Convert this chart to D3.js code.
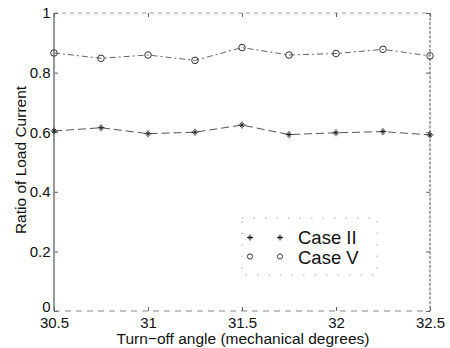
<!DOCTYPE html>
<html><head><meta charset="utf-8">
<script src="https://cdn.jsdelivr.net/npm/d3@7"></script>
<style>body{margin:0;background:#fff}svg{display:block}text{font-family:"Liberation Sans",Arial,sans-serif;fill:#111}</style>
</head><body><svg id="c" width="450" height="348"></svg>
<script>
const angles = [30.5, 30.75, 31, 31.25, 31.5, 31.75, 32, 32.25, 32.5];
const caseII = [0.604, 0.615, 0.595, 0.600, 0.624, 0.592, 0.598, 0.602, 0.591];
const caseV  = [0.866, 0.848, 0.859, 0.841, 0.884, 0.859, 0.864, 0.878, 0.856];
const xTicks = [30.5, 31, 31.5, 32, 32.5];
const xTickLabels = ["30.5", "31", "31.5", "32", "32.5"];
const yTicks = [0, 0.2, 0.4, 0.6, 0.8, 1];
const yTickLabels = ["0", "0.2", "0.4", "0.6", "0.8", "1"];
const seriesNames = ["Case II", "Case V"];

const svg = d3.select("#c");
const L = 54, R = 430, T = 13, B = 311;
const x = d3.scaleLinear().domain([30.5, 32.5]).range([L, R]);
const y = d3.scaleLinear().domain([0, 1]).range([B, T]);

// box
svg.append("line").attr("x1", L).attr("x2", L).attr("y1", T).attr("y2", B).attr("stroke", "#555").attr("stroke-width", 1.2);
svg.append("line").attr("x1", L).attr("x2", R).attr("y1", T).attr("y2", T).attr("stroke", "#999").attr("stroke-dasharray", "4,4");
svg.append("line").attr("x1", R).attr("x2", R).attr("y1", T).attr("y2", B).attr("stroke", "#555").attr("stroke-dasharray", "3,1.5");
svg.append("line").attr("x1", L).attr("x2", R).attr("y1", B).attr("y2", B).attr("stroke", "#888").attr("stroke-dasharray", "6,5");

// axes via d3
const xAxis = d3.axisBottom(x).tickValues(xTicks).tickFormat((d, i) => xTickLabels[i]).tickSizeInner(-4).tickSizeOuter(0).tickPadding(6);
const gx = svg.append("g").attr("transform", `translate(0,${B})`).call(xAxis);
gx.select(".domain").remove();
gx.selectAll("line").attr("stroke", "#666");
gx.selectAll("text").attr("font-size", 15).attr("fill", "#111").attr("font-family", "Liberation Sans, Arial, sans-serif");
const gxTop = svg.append("g").attr("transform", `translate(0,${T})`).call(d3.axisTop(x).tickValues(xTicks).tickFormat("").tickSizeInner(-4).tickSizeOuter(0));
gxTop.select(".domain").remove(); gxTop.selectAll("line").attr("stroke", "#666");

const yAxis = d3.axisLeft(y).tickValues(yTicks).tickFormat((d, i) => yTickLabels[i]).tickSizeInner(-4).tickSizeOuter(0).tickPadding(3.5);
const gy = svg.append("g").attr("transform", `translate(${L},0)`).call(yAxis);
gy.select(".domain").remove();
gy.selectAll("line").attr("stroke", "#666");
gy.selectAll("text").attr("font-size", 15).attr("fill", "#111").attr("font-family", "Liberation Sans, Arial, sans-serif");
gy.selectAll("text").filter(d => d === 0).attr("dy", "0.05em");
const gyR = svg.append("g").attr("transform", `translate(${R},0)`).call(d3.axisRight(y).tickValues(yTicks).tickFormat("").tickSizeInner(-4).tickSizeOuter(0));
gyR.select(".domain").remove(); gyR.selectAll("line").attr("stroke", "#666");

// lines
const line = d3.line().x((d, i) => x(angles[i])).y(d => y(d));
svg.append("path").datum(caseII).attr("d", line).attr("fill", "none").attr("stroke", "#555").attr("stroke-width", 1).attr("stroke-dasharray", "8,4");
svg.append("path").datum(caseV).attr("d", line).attr("fill", "none").attr("stroke", "#666").attr("stroke-width", 1).attr("stroke-dasharray", "6,3,2,3");

function star(g, cx, cy, s) {
  g.append("path").attr("d", `M${cx - s},${cy}H${cx + s}M${cx},${cy - s}V${cy + s}M${cx - s * 0.55},${cy - s * 0.55}L${cx + s * 0.55},${cy + s * 0.55}M${cx - s * 0.55},${cy + s * 0.55}L${cx + s * 0.55},${cy - s * 0.55}`)
    .attr("stroke", "#222").attr("stroke-width", 1).attr("fill", "none");
}
const mk = svg.append("g");
caseII.forEach((v, i) => star(mk, x(angles[i]), y(v), 3.5));
caseV.forEach((v, i) => mk.append("circle").attr("cx", x(angles[i])).attr("cy", y(v)).attr("r", 3.3).attr("fill", "none").attr("stroke", "#333").attr("stroke-width", 1));

// legend
const lg = svg.append("g");
lg.append("rect").attr("x", 242).attr("y", 218).attr("width", 135).attr("height", 57).attr("fill", "#fff").attr("stroke", "#aaa").attr("stroke-dasharray", "1.5,10");
star(lg, 250, 237.5, 3);
star(lg, 280, 237.5, 3);
lg.append("circle").attr("cx", 250).attr("cy", 256.5).attr("r", 2.6).attr("fill", "none").attr("stroke", "#333");
lg.append("circle").attr("cx", 280).attr("cy", 256.5).attr("r", 2.6).attr("fill", "none").attr("stroke", "#333");
lg.append("text").attr("x", 298).attr("y", 243.5).attr("font-size", 18.5).text(seriesNames[0]);
lg.append("text").attr("x", 298).attr("y", 264).attr("font-size", 18.5).text(seriesNames[1]);

// titles
svg.append("text").attr("x", 243).attr("y", 344).attr("text-anchor", "middle").attr("font-size", 15.5).text("Turn\u2212off angle (mechanical degrees)");
svg.append("text").attr("transform", "translate(26,160) rotate(-90)").attr("text-anchor", "middle").attr("font-size", 15.5).text("Ratio of Load Current");
</script></body></html>
